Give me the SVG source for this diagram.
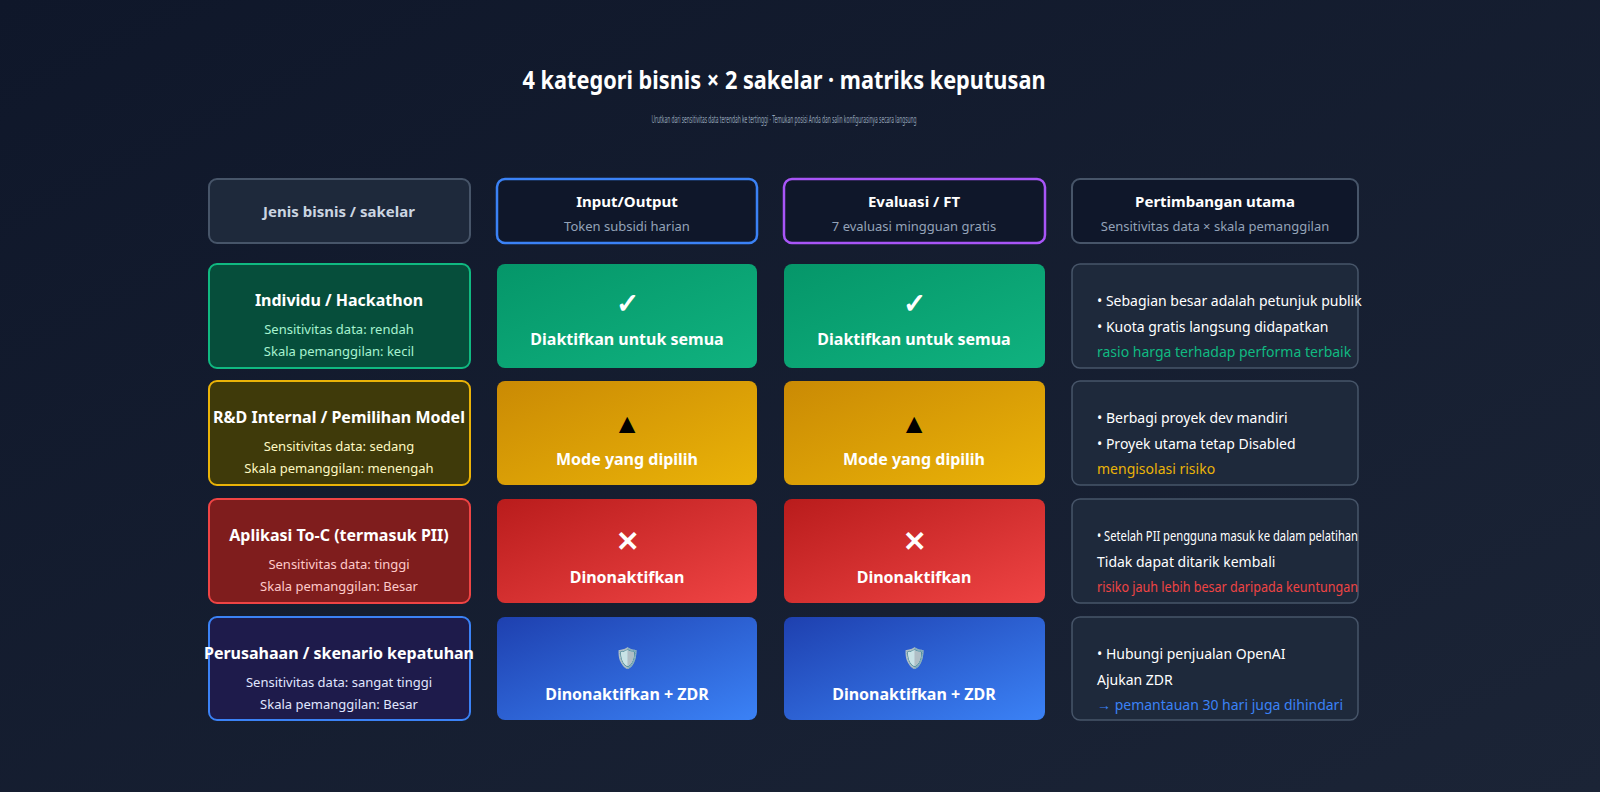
<svg xmlns="http://www.w3.org/2000/svg" width="1600" height="792" viewBox="0 0 1600 792">
<defs>
<linearGradient id="bg" x1="0" y1="0" x2="1" y2="1"><stop offset="0" stop-color="#0f172a"/><stop offset="1" stop-color="#1b2436"/></linearGradient>
<linearGradient id="gG" x1="0" y1="0" x2="1" y2="1"><stop offset="0" stop-color="#059669"/><stop offset="1" stop-color="#10b27f"/></linearGradient>
<linearGradient id="gY" x1="0" y1="0" x2="1" y2="1"><stop offset="0" stop-color="#ca8a04"/><stop offset="1" stop-color="#eab308"/></linearGradient>
<linearGradient id="gR" x1="0" y1="0" x2="1" y2="1"><stop offset="0" stop-color="#b91c1c"/><stop offset="1" stop-color="#ef4444"/></linearGradient>
<linearGradient id="gB" x1="0" y1="0" x2="1" y2="1"><stop offset="0" stop-color="#1e40af"/><stop offset="1" stop-color="#3b82f6"/></linearGradient>
<clipPath id="c1"><rect x="1072" y="499" width="286" height="104"/></clipPath>
</defs>
<style>
text{font-family:"Noto Sans","Liberation Sans",sans-serif;text-anchor:middle}
.h{font-size:15px;font-weight:bold;fill:#fff}
.hs{font-size:13px;fill:#94a3b8}
.rt{font-size:16px;font-weight:bold;fill:#fff}
.rs{font-size:13px}
.cell{font-size:16px;font-weight:bold;fill:#fff}
.ic{font-size:28px;font-weight:bold}
.n{font-size:14px;fill:#fff;text-anchor:start}
.note{fill:#1e293b;stroke:#475569;stroke-width:1.5}
</style>
<rect width="1600" height="792" fill="url(#bg)"/>
<text x="784" y="89" font-size="25" font-weight="bold" fill="#fff" textLength="523" lengthAdjust="spacingAndGlyphs">4 kategori bisnis × 2 sakelar · matriks keputusan</text>
<text x="784" y="123" font-size="10" fill="#94a3b8" textLength="265" lengthAdjust="spacingAndGlyphs">Urutkan dari sensitivitas data terendah ke tertinggi · Temukan posisi Anda dan salin konfigurasinya secara langsung</text>

<g id="hdr-type"><rect x="209" y="179" width="261" height="64" rx="8" fill="#1e293b" stroke="#475569" stroke-width="2"/><text class="h" x="339" y="217" style="fill:#cbd5e1">Jenis bisnis / sakelar</text></g>
<g id="hdr-io"><rect x="497" y="179" width="260" height="64" rx="8" fill="#0f172a" stroke="#3b82f6" stroke-width="2.5"/><text class="h" x="627" y="207">Input/Output</text><text class="hs" x="627" y="231">Token subsidi harian</text></g>
<g id="hdr-ft"><rect x="784" y="179" width="261" height="64" rx="8" fill="#0f172a" stroke="#a855f7" stroke-width="2.5"/><text class="h" x="914" y="207">Evaluasi / FT</text><text class="hs" x="914" y="231">7 evaluasi mingguan gratis</text></g>
<g id="hdr-note"><rect x="1072" y="179" width="286" height="64" rx="8" fill="#0f172a" stroke="#475569" stroke-width="2"/><text class="h" x="1215" y="207">Pertimbangan utama</text><text class="hs" x="1215" y="231">Sensitivitas data × skala pemanggilan</text></g>

<g id="row1">
<rect x="209" y="264" width="261" height="104" rx="8" fill="#064e3b" stroke="#10b981" stroke-width="2"/>
<text class="rt" x="339" y="306">Individu / Hackathon</text>
<text class="rs" x="339" y="334" fill="#a7f3d0">Sensitivitas data: rendah</text>
<text class="rs" x="339" y="356" fill="#a7f3d0">Skala pemanggilan: kecil</text>
<rect x="497" y="264" width="260" height="104" rx="8" fill="url(#gG)"/>
<text class="ic" x="627" y="313" fill="#fff">✓</text><text class="cell" x="627" y="345">Diaktifkan untuk semua</text>
<rect x="784" y="264" width="261" height="104" rx="8" fill="url(#gG)"/>
<text class="ic" x="914" y="313" fill="#fff">✓</text><text class="cell" x="914" y="345">Diaktifkan untuk semua</text>
<rect class="note" x="1072" y="264" width="286" height="104" rx="8"/>
<text class="n" x="1097" y="306">• Sebagian besar adalah petunjuk publik</text>
<text class="n" x="1097" y="332">• Kuota gratis langsung didapatkan</text>
<text class="n" x="1097" y="357" style="fill:#10b981">rasio harga terhadap performa terbaik</text>
</g>
<g id="row2">
<rect x="209" y="381" width="261" height="104" rx="8" fill="#3f3a0a" stroke="#eab308" stroke-width="2"/>
<text class="rt" x="339" y="423">R&amp;D Internal / Pemilihan Model</text>
<text class="rs" x="339" y="451" fill="#fef9c3">Sensitivitas data: sedang</text>
<text class="rs" x="339" y="473" fill="#fef9c3">Skala pemanggilan: menengah</text>
<rect x="497" y="381" width="260" height="104" rx="8" fill="url(#gY)"/>
<text class="ic" x="627" y="433" fill="#000" font-size="24">▲</text><text class="cell" x="627" y="465">Mode yang dipilih</text>
<rect x="784" y="381" width="261" height="104" rx="8" fill="url(#gY)"/>
<text class="ic" x="914" y="433" fill="#000" font-size="24">▲</text><text class="cell" x="914" y="465">Mode yang dipilih</text>
<rect class="note" x="1072" y="381" width="286" height="104" rx="8"/>
<text class="n" x="1097" y="423">• Berbagi proyek dev mandiri</text>
<text class="n" x="1097" y="449">• Proyek utama tetap Disabled</text>
<text class="n" x="1097" y="474" style="fill:#eab308">mengisolasi risiko</text>
</g>
<g id="row3">
<rect x="209" y="499" width="261" height="104" rx="8" fill="#7f1d1d" stroke="#ef4444" stroke-width="2"/>
<text class="rt" x="339" y="541">Aplikasi To-C (termasuk PII)</text>
<text class="rs" x="339" y="569" fill="#fecaca">Sensitivitas data: tinggi</text>
<text class="rs" x="339" y="591" fill="#fecaca">Skala pemanggilan: Besar</text>
<rect x="497" y="499" width="260" height="104" rx="8" fill="url(#gR)"/>
<text class="ic" x="627" y="551" fill="#fff">✕</text><text class="cell" x="627" y="583">Dinonaktifkan</text>
<rect x="784" y="499" width="261" height="104" rx="8" fill="url(#gR)"/>
<text class="ic" x="914" y="551" fill="#fff">✕</text><text class="cell" x="914" y="583">Dinonaktifkan</text>
<rect class="note" x="1072" y="499" width="286" height="104" rx="8"/>
<text class="n" x="1097" y="541" font-size="12" textLength="261" lengthAdjust="spacingAndGlyphs">• Setelah PII pengguna masuk ke dalam pelatihan</text>
<text class="n" x="1097" y="567">Tidak dapat ditarik kembali</text>
<text class="n" x="1097" y="592" style="fill:#ef4444" textLength="261" lengthAdjust="spacingAndGlyphs">risiko jauh lebih besar daripada keuntungan</text>
</g>
<g id="row4">
<rect x="209" y="617" width="261" height="103" rx="8" fill="#1e1b4b" stroke="#3b82f6" stroke-width="2"/>
<text class="rt" x="339" y="659">Perusahaan / skenario kepatuhan</text>
<text class="rs" x="339" y="687" fill="#e0e7ff">Sensitivitas data: sangat tinggi</text>
<text class="rs" x="339" y="709" fill="#e0e7ff">Skala pemanggilan: Besar</text>
<rect x="497" y="617" width="260" height="103" rx="8" fill="url(#gB)"/>
<text x="627" y="665" font-size="20">🛡️</text><text class="cell" x="627" y="700">Dinonaktifkan + ZDR</text>
<rect x="784" y="617" width="261" height="103" rx="8" fill="url(#gB)"/>
<text x="914" y="665" font-size="20">🛡️</text><text class="cell" x="914" y="700">Dinonaktifkan + ZDR</text>
<rect class="note" x="1072" y="617" width="286" height="103" rx="8"/>
<text class="n" x="1097" y="659">• Hubungi penjualan OpenAI</text>
<text class="n" x="1097" y="685">Ajukan ZDR</text>
<text class="n" x="1097" y="710" style="fill:#3b82f6">→ pemantauan 30 hari juga dihindari</text>
</g>
<g id="connectors"/>
</svg>
